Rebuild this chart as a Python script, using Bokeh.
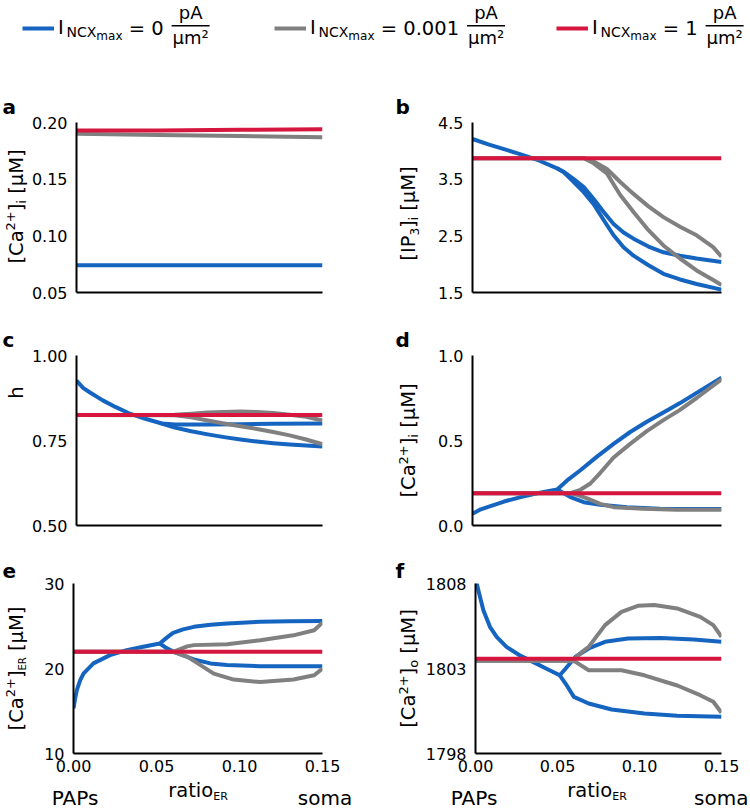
import math
from bokeh.plotting import figure
from bokeh.models import (Label, Legend, LegendItem, FixedTicker, Range1d,
                          PrintfTickFormatter, BoxAnnotation)
from bokeh.layouts import column, row
from bokeh.embed import file_html
from bokeh.resources import INLINE

FONT = "DejaVu Sans"
BLUE = "#1565C0"
GRAY = "#808080"
RED = "#D6163F"

# ---------------------------------------------------------------- data
ratio_ticks = [0.0, 0.05, 0.10, 0.15]
legend_values = ["0", "0.001", "1"]
series_colors = [BLUE, GRAY, RED]

# panel a : [Ca2+]_i
a_x = [0.0, 0.05, 0.10, 0.15]
a_blue = [0.074, 0.074, 0.074, 0.074]
a_gray = [0.190, 0.189, 0.188, 0.187]
a_red = [0.193, 0.193, 0.1935, 0.194]

# panel b : [IP3]_i
b_blue1_x = [0.0, 0.01, 0.02, 0.03, 0.04, 0.051, 0.055, 0.061, 0.067, 0.073, 0.079, 0.085, 0.091, 0.097, 0.106, 0.115, 0.125, 0.135, 0.15]
b_blue1_y = [4.21, 4.11, 4.02, 3.93, 3.83, 3.69, 3.63, 3.50, 3.36, 3.15, 2.92, 2.71, 2.56, 2.45, 2.31, 2.21, 2.15, 2.10, 2.04]
b_blue2_x = [0.051, 0.055, 0.061, 0.067, 0.073, 0.079, 0.085, 0.091, 0.097, 0.106, 0.115, 0.125, 0.135, 0.15]
b_blue2_y = [3.69, 3.62, 3.45, 3.27, 3.06, 2.78, 2.51, 2.30, 2.15, 1.98, 1.83, 1.73, 1.65, 1.55]
b_gray_x = [0.0, 0.067, 0.073, 0.081, 0.089, 0.097, 0.106, 0.115, 0.125, 0.135, 0.145, 0.15]
b_gray1_y = [3.87, 3.87, 3.81, 3.68, 3.45, 3.24, 3.02, 2.83, 2.66, 2.51, 2.30, 2.13]
b_gray2_y = [3.87, 3.87, 3.78, 3.60, 3.22, 2.92, 2.60, 2.33, 2.10, 1.89, 1.72, 1.63]
b_red_x = [0.0, 0.15]
b_red_y = [3.87, 3.87]

# panel c : h
c_blue1_x = [0.0, 0.004, 0.008, 0.016, 0.024, 0.032, 0.042, 0.052, 0.06, 0.08, 0.10, 0.12, 0.15]
c_blue1_y = [0.926, 0.905, 0.892, 0.868, 0.848, 0.830, 0.814, 0.800, 0.797, 0.797, 0.798, 0.799, 0.800]
c_blue2_x = [0.052, 0.06, 0.07, 0.08, 0.09, 0.10, 0.11, 0.12, 0.13, 0.14, 0.15]
c_blue2_y = [0.800, 0.788, 0.777, 0.768, 0.760, 0.753, 0.747, 0.742, 0.738, 0.735, 0.732]
c_gray_x = [0.0, 0.06, 0.07, 0.08, 0.09, 0.10, 0.11, 0.12, 0.13, 0.14, 0.15]
c_gray1_y = [0.825, 0.826, 0.829, 0.832, 0.834, 0.835, 0.834, 0.831, 0.826, 0.820, 0.809]
c_gray2_y = [0.825, 0.824, 0.818, 0.809, 0.800, 0.792, 0.784, 0.775, 0.765, 0.753, 0.739]
c_red_x = [0.0, 0.15]
c_red_y = [0.825, 0.825]

# panel d : [Ca2+]_i
d_blue1_x = [0.0, 0.005, 0.009, 0.019, 0.029, 0.039, 0.051, 0.057, 0.065, 0.075, 0.085, 0.095, 0.105, 0.115, 0.125, 0.135, 0.15]
d_blue1_y = [0.069, 0.095, 0.108, 0.141, 0.167, 0.190, 0.212, 0.265, 0.325, 0.405, 0.48, 0.55, 0.61, 0.665, 0.72, 0.78, 0.87]
d_blue2_x = [0.051, 0.055, 0.059, 0.067, 0.077, 0.093, 0.113, 0.15]
d_blue2_y = [0.212, 0.19, 0.167, 0.137, 0.122, 0.108, 0.098, 0.097]
d_gray1_x = [0.0, 0.059, 0.065, 0.071, 0.077, 0.085, 0.095, 0.105, 0.115, 0.125, 0.135, 0.15]
d_gray1_y = [0.19, 0.19, 0.21, 0.247, 0.31, 0.40, 0.48, 0.555, 0.62, 0.68, 0.75, 0.86]
d_gray2_x = [0.0, 0.059, 0.063, 0.069, 0.077, 0.085, 0.103, 0.123, 0.15]
d_gray2_y = [0.19, 0.19, 0.18, 0.16, 0.127, 0.108, 0.098, 0.092, 0.092]
d_red_x = [0.0, 0.15]
d_red_y = [0.19, 0.19]

# panel e : [Ca2+]_ER
e_blue1_x = [0.0, 0.001, 0.002, 0.004, 0.006, 0.012, 0.022, 0.032, 0.042, 0.052, 0.056, 0.060, 0.066, 0.0725, 0.0825, 0.0925, 0.1125, 0.13, 0.15]
e_blue1_y = [15.3, 16.5, 17.45, 18.6, 19.4, 20.6, 21.57, 22.16, 22.55, 22.94, 23.6, 24.2, 24.6, 24.9, 25.15, 25.3, 25.5, 25.55, 25.6]
e_blue2_x = [0.052, 0.056, 0.0605, 0.0665, 0.0725, 0.0825, 0.0925, 0.1125, 0.15]
e_blue2_y = [22.94, 22.4, 21.96, 21.5, 21.06, 20.6, 20.4, 20.27, 20.27]
e_gray1_x = [0.0, 0.06, 0.0685, 0.0725, 0.0925, 0.1125, 0.1325, 0.145, 0.15]
e_gray1_y = [21.96, 21.96, 22.6, 22.75, 22.86, 23.33, 23.9, 24.5, 25.4]
e_gray2_x = [0.0, 0.06, 0.0685, 0.0765, 0.0845, 0.0965, 0.1125, 0.1325, 0.145, 0.15]
e_gray2_y = [21.96, 21.96, 21.4, 20.4, 19.4, 18.7, 18.4, 18.7, 19.2, 20.0]
e_red_x = [0.0, 0.15]
e_red_y = [21.96, 21.96]

# panel f : [Ca2+]_o
f_blue1_x = [0.0, 0.002, 0.0048, 0.0088, 0.0129, 0.0189, 0.0269, 0.035, 0.043, 0.0514, 0.055, 0.061, 0.069, 0.079, 0.093, 0.113, 0.133, 0.15]
f_blue1_y = [1808.3, 1807.5, 1806.43, 1805.45, 1804.86, 1804.27, 1803.78, 1803.39, 1803.0, 1802.6, 1803.0, 1803.69, 1804.18, 1804.57, 1804.76, 1804.8, 1804.7, 1804.57]
f_blue2_x = [0.0514, 0.055, 0.060, 0.069, 0.083, 0.103, 0.123, 0.15]
f_blue2_y = [1802.6, 1802.1, 1801.33, 1800.94, 1800.59, 1800.35, 1800.22, 1800.16]
f_gray1_x = [0.0, 0.059, 0.065, 0.069, 0.079, 0.089, 0.099, 0.109, 0.123, 0.137, 0.145, 0.15]
f_gray1_y = [1803.45, 1803.45, 1803.98, 1804.27, 1805.55, 1806.33, 1806.69, 1806.73, 1806.53, 1806.04, 1805.55, 1804.86]
f_gray2_x = [0.0, 0.059, 0.061, 0.069, 0.089, 0.103, 0.123, 0.137, 0.145, 0.15]
f_gray2_y = [1803.45, 1803.45, 1803.39, 1802.9, 1802.9, 1802.6, 1802.0, 1801.43, 1801.04, 1800.4]
f_red_x = [0.0, 0.15]
f_red_y = [1803.57, 1803.57]

# ---------------------------------------------------------------- text helpers
CW = {'[': 0.390, ']': 0.390, 'C': 0.698, 'a': 0.613, '2': 0.636, '+': 0.838,
      'i': 0.278, ' ': 0.318, 'μ': 0.636, 'M': 0.863, 'I': 0.295, 'P': 0.603,
      '3': 0.636, 'E': 0.632, 'R': 0.695, 'h': 0.634, 'N': 0.748, 'X': 0.685,
      'm': 0.974, 'x': 0.592, '=': 0.838, '0': 0.636, '.': 0.318, '1': 0.636,
      'p': 0.635, 'A': 0.684, 'r': 0.411, 't': 0.392, 'o': 0.612, 's': 0.521,
      '²': 0.401}
K_MID = 0.35   # label anchor sits at the middle of the em box


def tw(s, size):
    return sum(CW.get(ch, 0.6) for ch in s) * size


def add_text(p, frame, px, py, text, size, bold=False, align="left", rotated=False):
    """px, py: page position of the text origin on its baseline."""
    L, B = frame
    if rotated:
        ax, ay, ang = px - K_MID * size, py, math.pi / 2
    else:
        ax, ay, ang = px, py - K_MID * size, 0.0
    p.add_layout(Label(x=ax - L, y=B - ay, x_units="screen", y_units="screen",
                       text=text, text_font=FONT, text_font_size=f"{size}px",
                       text_font_style="bold" if bold else "normal",
                       text_align=align, text_baseline="alphabetic",
                       angle=ang, text_color="black"))


def hrich(p, frame, px, py, pieces, align="left"):
    total = sum(tw(t, s) for t, s, d in pieces)
    if align == "center":
        px -= total / 2
    for t, s, d in pieces:
        add_text(p, frame, px, py + d, t, s)
        px += tw(t, s)
    return px


def vrich(p, frame, bx, cy, pieces):
    total = sum(tw(t, s) for t, s, d in pieces)
    y = cy + total / 2
    for t, s, d in pieces:
        lead = len(t) - len(t.lstrip(" "))
        y -= tw(" " * lead, s)
        t2 = t.strip(" ")
        add_text(p, frame, bx + d, y, t2, s, rotated=True)
        y -= tw(t2, s)


def blank(width, height):
    p = figure(width=width, height=height, x_range=Range1d(0, 1), y_range=Range1d(0, 1),
               min_border=0, min_border_left=0, min_border_right=0, min_border_top=0,
               min_border_bottom=0, x_axis_type=None, y_axis_type=None,
               output_backend="svg", toolbar_location=None, title=None,
               frame_align=False)
    p.outline_line_color = None
    return p


# ---------------------------------------------------------------- layout (page px)
# rows: (top, height, frame top, frame bottom)
ROWS = [(70, 250, 122, 292), (320, 228, 355, 525), (548, 230, 583, 753)]
# columns: strip x0, strip width, panel x0, panel width, frame left
COLS = [(0, 28, 28, 347, 73), (375, 47, 422, 327, 472)]
FW = 249


def make_panel(ci, ri, ylo, yhi, yticks, fmt, show_x):
    top, h, T, B = ROWS[ri]
    sx0, sw, px0, pw, L = COLS[ci]
    bl = L - px0
    br = pw - bl - FW
    p = figure(width=pw, height=h, x_range=Range1d(0, 0.15), y_range=Range1d(ylo, yhi),
               min_border_left=bl, min_border_right=br, min_border_top=T - top,
               min_border_bottom=top + h - B, output_backend="svg",
               toolbar_location=None, title=None)
    p.grid.grid_line_color = None
    p.outline_line_color = None
    for ax in (p.xaxis[0], p.yaxis[0]):
        ax.axis_line_width = 2
        ax.axis_line_color = "black"
        ax.major_tick_line_color = None
        ax.minor_tick_line_color = None
        ax.major_tick_out = 0
        ax.major_tick_in = 0
        ax.minor_tick_out = 0
        ax.minor_tick_in = 0
        ax.major_label_text_font = FONT
        ax.major_label_text_font_size = "16px"
        ax.major_label_text_color = "black"
    p.yaxis.ticker = FixedTicker(ticks=yticks)
    p.yaxis.formatter = PrintfTickFormatter(format=fmt)
    p.yaxis.major_label_standoff = 9
    p.xaxis.ticker = FixedTicker(ticks=ratio_ticks)
    p.xaxis.formatter = PrintfTickFormatter(format="%.2f")
    p.xaxis.major_label_standoff = 6
    if not show_x:
        p.xaxis.major_label_text_alpha = 0
    strip = blank(sw, h)
    return p, strip, (sx0, top + h)


def curve(p, xs, ys, color):
    p.line(xs, ys, line_color=color, line_width=4, line_join="round")


M = 19.5
S = 13
SUP = -7.5

pa, sa, fa = make_panel(0, 0, 0.05, 0.20, [0.05, 0.10, 0.15, 0.20], "%.2f", False)
curve(pa, a_x, a_blue, BLUE)
curve(pa, a_x, a_gray, GRAY)
curve(pa, a_x, a_red, RED)

pb, sb, fb = make_panel(1, 0, 1.5, 4.5, [1.5, 2.5, 3.5, 4.5], "%.1f", False)
curve(pb, b_blue1_x, b_blue1_y, BLUE)
curve(pb, b_blue2_x, b_blue2_y, BLUE)
curve(pb, b_gray_x, b_gray1_y, GRAY)
curve(pb, b_gray_x, b_gray2_y, GRAY)
curve(pb, b_red_x, b_red_y, RED)

pc, sc, fc = make_panel(0, 1, 0.5, 1.0, [0.5, 0.75, 1.0], "%.2f", False)
curve(pc, c_blue1_x, c_blue1_y, BLUE)
curve(pc, c_blue2_x, c_blue2_y, BLUE)
curve(pc, c_gray_x, c_gray1_y, GRAY)
curve(pc, c_gray_x, c_gray2_y, GRAY)
curve(pc, c_red_x, c_red_y, RED)

pd_, sd, fd = make_panel(1, 1, 0.0, 1.0, [0.0, 0.5, 1.0], "%.1f", False)
curve(pd_, d_blue1_x, d_blue1_y, BLUE)
curve(pd_, d_blue2_x, d_blue2_y, BLUE)
curve(pd_, d_gray1_x, d_gray1_y, GRAY)
curve(pd_, d_gray2_x, d_gray2_y, GRAY)
curve(pd_, d_red_x, d_red_y, RED)

pe, se, fe = make_panel(0, 2, 10, 30, [10, 20, 30], "%d", True)
curve(pe, e_blue1_x, e_blue1_y, BLUE)
curve(pe, e_blue2_x, e_blue2_y, BLUE)
curve(pe, e_gray1_x, e_gray1_y, GRAY)
curve(pe, e_gray2_x, e_gray2_y, GRAY)
curve(pe, e_red_x, e_red_y, RED)

pf, sf, ff = make_panel(1, 2, 1798, 1808, [1798, 1803, 1808], "%d", True)
curve(pf, f_blue1_x, f_blue1_y, BLUE)
curve(pf, f_blue2_x, f_blue2_y, BLUE)
curve(pf, f_gray1_x, f_gray1_y, GRAY)
curve(pf, f_gray2_x, f_gray2_y, GRAY)
curve(pf, f_red_x, f_red_y, RED)

# panel letters (in the label strips)
add_text(sa, fa, 2, 113, "a", 20, bold=True)
add_text(sb, fb, 395, 113, "b", 20, bold=True)
add_text(sc, fc, 2, 346, "c", 20, bold=True)
add_text(sd, fd, 395, 346, "d", 20, bold=True)
add_text(se, fe, 2, 577, "e", 20, bold=True)
add_text(sf, ff, 395, 577, "f", 20, bold=True)

# y labels
LBX, RBX = 22.5, 415
ca_i = [("[Ca", M, 0), ("2+", S, SUP), ("]", M, 0), ("i", S, 3), (" [μM]", M, 0)]
vrich(sa, fa, LBX, 206, ca_i)
vrich(sb, fb, RBX, 213, [("[IP", M, 0), ("3", 12, 3), ("]", M, 0), ("i", 12, 3), (" [μM]", M, 0)])
vrich(sc, fc, LBX, 392, [("h", M, 0)])
vrich(sd, fd, RBX, 440, ca_i)
vrich(se, fe, LBX, 668, [("[Ca", M, 0), ("2+", S, SUP), ("]", M, 0), ("ER", 10, 3), (" [μM]", M, 0)])
vrich(sf, ff, RBX, 668, [("[Ca", M, 0), ("2+", S, SUP), ("]", M, 0), ("o", S, 3), (" [μM]", M, 0)])

# bottom strip: x labels, PAPs / soma
bot = blank(749, 31)
fbot = (0, 809)
for L in (73, 472):
    hrich(bot, fbot, L + FW / 2, 796.5, [("ratio", M, 0), ("ER", 11, 3)], align="center")
    add_text(bot, fbot, L + 1.5, 804, "PAPs", 20, align="center")
add_text(bot, fbot, 324.5, 804, "soma", 20, align="center")
add_text(bot, fbot, 748, 804, "soma", 20, align="right")

# ---------------------------------------------------------------- legend strip
lp = blank(749, 70)
fl = (0, 70)

swatch_x = [22, 274, 556]
SW_Y = 27.5          # swatch centre (page y)
BASE = SW_Y + K_MID * M
for col, val, sx in zip(series_colors, legend_values, swatch_x):
    r = lp.line(x=[math.nan], y=[math.nan], line_color=col, line_width=4)
    leg = Legend(items=[LegendItem(label="I", renderers=[r])],
                 location=(sx, 70 - SW_Y - 12), glyph_width=32, glyph_height=24,
                 label_height=24, label_width=0, label_standoff=4, padding=0,
                 margin=0, spacing=0, border_line_color=None,
                 background_fill_alpha=0, label_text_font=FONT,
                 label_text_font_size=f"{M}px", label_text_color="black")
    lp.add_layout(leg)
    x0 = sx + 38
    add_text(lp, fl, x0 + 6, BASE + 2.5, "NCX", 14)
    add_text(lp, fl, x0 + 6 + tw("NCX", 14), BASE + 5, "max", 12)
    ex = x0 + 6 + tw("NCX", 14) + tw("max", 12) + tw(" ", M)
    txt = "= " + val
    add_text(lp, fl, ex, BASE, txt, M)
    fx = ex + tw(txt, M) + 8
    fw = 38
    add_text(lp, fl, fx + fw / 2, 18, "pA", 18, align="center")
    add_text(lp, fl, fx + fw / 2, 43, "μm²", 18, align="center")
    lp.add_layout(BoxAnnotation(left=fx, right=fx + fw, bottom=70 - 26, top=70 - 24.5,
                                left_units="screen", right_units="screen",
                                bottom_units="screen", top_units="screen",
                                fill_color="black", fill_alpha=1, line_color=None))

layout = column(lp, row(sa, pa, sb, pb), row(sc, pc, sd, pd_), row(se, pe, sf, pf), bot)
open("out.html", "w").write(file_html(layout, INLINE))
